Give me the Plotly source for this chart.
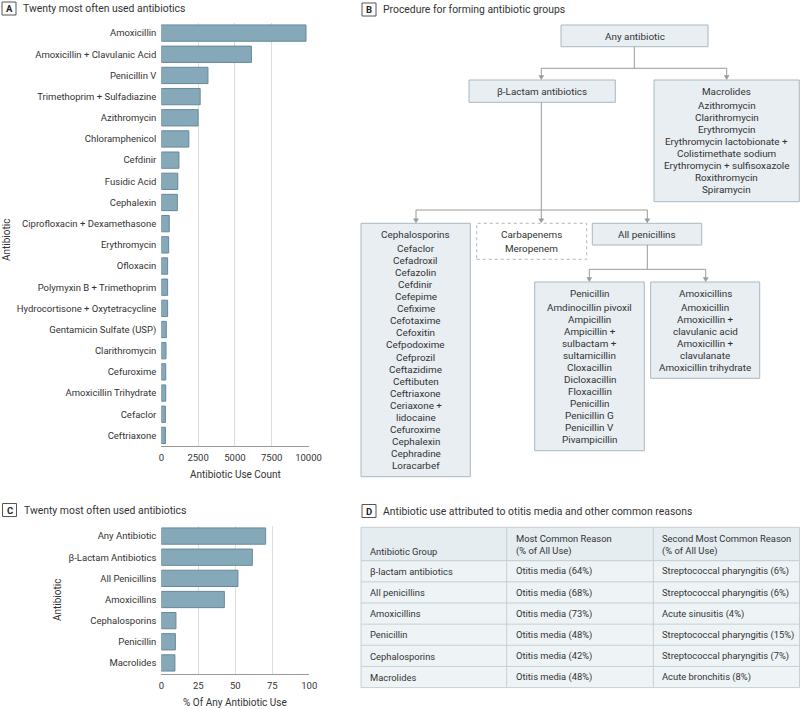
import plotly.graph_objects as go

# ---------------- DATA ----------------
drugs_a = ["Amoxicillin", "Amoxicillin + Clavulanic Acid", "Penicillin V",
           "Trimethoprim + Sulfadiazine", "Azithromycin", "Chloramphenicol",
           "Cefdinir", "Fusidic Acid", "Cephalexin", "Ciprofloxacin + Dexamethasone",
           "Erythromycin", "Ofloxacin", "Polymyxin B + Trimethoprim",
           "Hydrocortisone + Oxytetracycline", "Gentamicin Sulfate (USP)",
           "Clarithromycin", "Cefuroxime", "Amoxicillin Trihydrate", "Cefaclor",
           "Ceftriaxone"]
counts_a = [9830, 6120, 3170, 2640, 2500, 1870, 1200, 1120, 1090, 540,
            500, 430, 430, 430, 340, 320, 300, 300, 280, 280]
ticks_a = [0, 2500, 5000, 7500, 10000]

groups_c = ["Any Antibiotic", "β-Lactam Antibiotics", "All Penicillins",
            "Amoxicillins", "Cephalosporins", "Penicillin", "Macrolides"]
pct_c = [70.5, 61.5, 51.8, 42.6, 9.9, 9.5, 9.2]
ticks_c = [0, 25, 50, 75, 100]

macrolides = ["Azithromycin", "Clarithromycin", "Erythromycin",
              "Erythromycin lactobionate +", "Colistimethate sodium",
              "Erythromycin + sulfisoxazole", "Roxithromycin", "Spiramycin"]
cephalosporins = ["Cefaclor", "Cefadroxil", "Cefazolin", "Cefdinir", "Cefepime",
                  "Cefixime", "Cefotaxime", "Cefoxitin", "Cefpodoxime", "Cefprozil",
                  "Ceftazidime", "Ceftibuten", "Ceftriaxone", "Ceriaxone +",
                  "lidocaine", "Cefuroxime", "Cephalexin", "Cephradine", "Loracarbef"]
carbapenems = ["Meropenem"]
penicillins = ["Amdinocillin pivoxil", "Ampicillin", "Ampicillin +", "sulbactam +",
               "sultamicillin", "Cloxacillin", "Dicloxacillin", "Floxacillin",
               "Penicillin", "Penicillin G", "Penicillin V", "Pivampicillin"]
amoxicillins = ["Amoxicillin", "Amoxicillin +", "clavulanic acid", "Amoxicillin +",
                "clavulanate", "Amoxicillin trihydrate"]

table_header = [["", "Antibiotic Group"],
                ["Most Common Reason", "(% of All Use)"],
                ["Second Most Common Reason", "(% of All Use)"]]
table_group = ["β-lactam antibiotics", "All penicillins", "Amoxicillins",
               "Penicillin", "Cephalosporins", "Macrolides"]
table_first = ["Otitis media (64%)", "Otitis media (68%)", "Otitis media (73%)",
               "Otitis media (48%)", "Otitis media (42%)", "Otitis media (48%)"]
table_second = ["Streptococcal pharyngitis (6%)", "Streptococcal pharyngitis (6%)",
                "Acute sinusitis (4%)", "Streptococcal pharyngitis (15%)",
                "Streptococcal pharyngitis (7%)", "Acute bronchitis (8%)"]

# ---------------- STYLE ----------------
W, H = 800, 709
FONT = "Roboto, Liberation Sans, sans-serif"
TXT = "#333333"
BAR = "#86a9b9"
BAR_LINE = "#66889a"
BOX_FILL = "#e8eef2"
BOX_LINE = "#a9b8c0"
CONN = "#9a9a9a"
GRID = "#dcdcdc"
TAB_HEAD = "#e6edf1"
TAB_BODY = "#eef3f6"
TAB_LINE = "#c6d0d6"
FS_TICK = 9.5
FS_FLOW = 9.9
FS_TAB = 9.4
FS_TITLE = 10.4
FS_AXT = 10

# table geometry (px)
TAB_COLS = [361, 506.7, 653.3, 799.5]
TAB_TOP = 527.3
TAB_HEAD_H = 33.4
TAB_ROW_H = 21.15


def px(x):
    return x / W


def py(y):
    return 1 - y / H


fig = go.Figure()

# Panel A
fig.add_trace(go.Bar(x=counts_a, y=drugs_a, orientation="h", width=0.77,
                     marker=dict(color=BAR, line=dict(color=BAR_LINE, width=1)),
                     xaxis="x", yaxis="y", showlegend=False))
# Panel C
fig.add_trace(go.Bar(x=pct_c, y=groups_c, orientation="h", width=0.77,
                     marker=dict(color=BAR, line=dict(color=BAR_LINE, width=1)),
                     xaxis="x2", yaxis="y2", showlegend=False))

axis_common = dict(showline=True, linecolor="#999999", linewidth=1,
                   showgrid=True, gridcolor=GRID, gridwidth=1, zeroline=False,
                   ticks="", automargin=False, tickformat="d", ticklabelstandoff=3,
                   tickfont=dict(family=FONT, size=FS_TICK, color=TXT))
yaxis_common = dict(showgrid=False, showline=False, ticks="", automargin=False,
                    autorange="reversed", ticklabelstandoff=4,
                    tickfont=dict(family=FONT, size=FS_TICK, color=TXT))

fig.update_layout(
    template="none",
    width=W, height=H, margin=dict(l=0, r=0, t=0, b=0, autoexpand=False),
    paper_bgcolor="white", plot_bgcolor="white",
    font=dict(family=FONT, size=FS_TICK, color=TXT),
    xaxis=dict(domain=[px(161.3), px(308.5)], range=[0, 10000], tickvals=ticks_a,
               anchor="y", **axis_common),
    yaxis=dict(domain=[py(446), py(22.5)], anchor="x", **yaxis_common),
    xaxis2=dict(domain=[px(161.3), px(309.3)], range=[0, 100], tickvals=ticks_c,
                anchor="y2", **axis_common),
    yaxis2=dict(domain=[py(673.5), py(525.5)], anchor="x2", **yaxis_common),
    bargap=0.23,
)

shapes = []
annos = []


def text(x, y, s, size=FS_FLOW, xanchor="center", angle=0, color=TXT):
    annos.append(dict(x=px(x), y=py(y), xref="paper", yref="paper", text=s,
                      showarrow=False, xanchor=xanchor, yanchor="middle",
                      textangle=angle, font=dict(family=FONT, size=size, color=color)))


def rect(x0, y0, x1, y1, fill=BOX_FILL, line=BOX_LINE, dash="solid", width=1):
    shapes.append(dict(type="rect", xref="paper", yref="paper",
                       x0=px(x0), x1=px(x1), y0=py(y1), y1=py(y0),
                       fillcolor=fill, line=dict(color=line, width=width, dash=dash),
                       layer="below"))


def seg(x0, y0, x1, y1, color=CONN):
    shapes.append(dict(type="line", xref="paper", yref="paper",
                       x0=px(x0), x1=px(x1), y0=py(y0), y1=py(y1),
                       line=dict(color=color, width=1)))


def arrow(x, y0, y1):
    seg(x, y0, x, y1 - 2)
    path = "M {:.5f},{:.5f} L {:.5f},{:.5f} L {:.5f},{:.5f} Z".format(
        px(x - 2.5), py(y1 - 4.5), px(x + 2.5), py(y1 - 4.5), px(x), py(y1 - 0.5))
    shapes.append(dict(type="path", xref="paper", yref="paper", path=path,
                       fillcolor=CONN, line=dict(color=CONN, width=0.5)))


def panel_label(x, y, letter, title):
    rect(x, y - 6.5, x + 14, y + 6.5, fill="white", line="#555555")
    annos.append(dict(x=px(x + 7), y=py(y), xref="paper", yref="paper",
                      text="<b>" + letter + "</b>", showarrow=False,
                      xanchor="center", yanchor="middle",
                      font=dict(family=FONT, size=9.5, color="#222222")))
    text(x + 19, y, title, size=FS_TITLE, xanchor="left")


def group_box(x0, y0, x1, y1, header, items, dash="solid", fill=BOX_FILL):
    rect(x0, y0, x1, y1, fill=fill, dash=dash)
    cx = (x0 + x1) / 2
    text(cx, y0 + 11, header)
    for i, s in enumerate(items):
        text(cx, y0 + 25 + 12.08 * i, s)


# Panel labels
panel_label(2, 8.5, "A", "Twenty most often used antibiotics")
panel_label(362, 9.5, "B", "Procedure for forming antibiotic groups")
panel_label(2.5, 510, "C", "Twenty most often used antibiotics")
panel_label(362, 511, "D", "Antibiotic use attributed to otitis media and other common reasons")

# Axis titles
text(235, 475, "Antibiotic Use Count", size=FS_AXT)
text(7, 240, "Antibiotic", size=FS_AXT, angle=-90)
text(235, 702, "% Of Any Antibiotic Use", size=FS_AXT)
text(57, 600, "Antibiotic", size=FS_AXT, angle=-90)

# Panel B flowchart
rect(561, 25, 708, 46.7)
text(634.5, 36, "Any antibiotic")
seg(634.3, 46.7, 634.3, 68.3)
seg(541.3, 68.3, 726.7, 68.3)
arrow(541.3, 68.3, 80)
arrow(726.7, 68.3, 80)

rect(469, 80, 615.3, 102.3)
text(542.2, 91.2, "β-Lactam antibiotics")
group_box(654, 80, 799.3, 201.7, "Macrolides", macrolides)

seg(541.3, 102.3, 541.3, 210)
seg(416, 210, 647.3, 210)
arrow(416, 210, 223.3)
arrow(541.3, 210, 223.3)
arrow(647.3, 210, 223.3)

group_box(361, 223.3, 470.3, 476.7, "Cephalosporins", cephalosporins)
group_box(476.7, 223.3, 586.7, 259.3, "Carbapenems", carbapenems, dash="dot", fill="white")
rect(592.3, 223.3, 701.7, 245)
text(647, 234.2, "All penicillins")

seg(647.3, 245, 647.3, 269.3)
seg(589.3, 269.3, 705.7, 269.3)
arrow(589.3, 269.3, 282)
arrow(705.7, 269.3, 282)

group_box(534.7, 282, 644.3, 450.7, "Penicillin", penicillins)
group_box(650.7, 282, 759.7, 378.3, "Amoxicillins", amoxicillins)

# Panel D table (cells built from the data lists)
columns = [table_group, table_first, table_second]
n_rows = len(table_group)
tab_bottom = TAB_TOP + TAB_HEAD_H + n_rows * TAB_ROW_H
rect(TAB_COLS[0], TAB_TOP, TAB_COLS[-1], TAB_TOP + TAB_HEAD_H, fill=TAB_HEAD, line=TAB_LINE)
rect(TAB_COLS[0], TAB_TOP + TAB_HEAD_H, TAB_COLS[-1], tab_bottom, fill=TAB_BODY, line=TAB_LINE)
for xc in TAB_COLS[1:-1]:
    seg(xc, TAB_TOP, xc, tab_bottom, color=TAB_LINE)
for r in range(1, n_rows):
    yr = TAB_TOP + TAB_HEAD_H + r * TAB_ROW_H
    seg(TAB_COLS[0], yr, TAB_COLS[-1], yr, color=TAB_LINE)
for c, head in enumerate(table_header):
    x_left = TAB_COLS[c] + 7
    for k, line in enumerate(head):
        if line:
            text(x_left, TAB_TOP + 11 + 12.7 * k, line, size=FS_TAB, xanchor="left")
    for r, val in enumerate(columns[c]):
        text(x_left, TAB_TOP + TAB_HEAD_H + r * TAB_ROW_H + 10.8, val,
             size=FS_TAB, xanchor="left")

fig.update_layout(shapes=shapes, annotations=annos)
fig.write_html(
    "out.html",
    config={"displayModeBar": False},
    post_script="document.body.style.margin='0';document.body.style.padding='0';"
                "document.body.style.overflow='hidden';",
)
